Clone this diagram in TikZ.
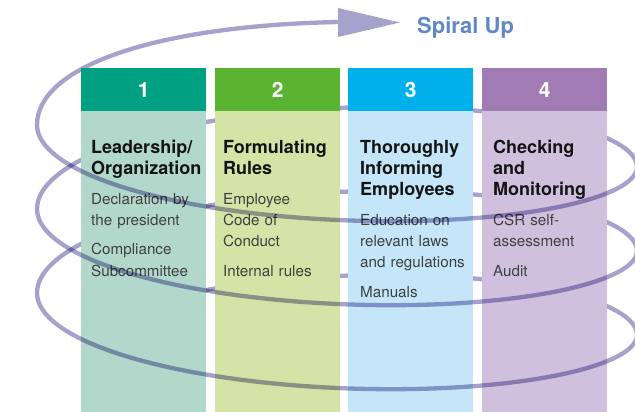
\documentclass[tikz,border=0pt]{standalone}
\usepackage{fontspec}
\setmainfont{TeX Gyre Heros}
\definecolor{spiralc}{RGB}{166,162,204}
\definecolor{spiraltext}{RGB}{96,136,200}
\definecolor{headA}{RGB}{0,161,130}
\definecolor{bodyA}{RGB}{178,216,203}
\definecolor{headB}{RGB}{91,180,49}
\definecolor{bodyB}{RGB}{211,228,166}
\definecolor{headC}{RGB}{0,176,234}
\definecolor{bodyC}{RGB}{196,230,248}
\definecolor{headD}{RGB}{160,123,180}
\definecolor{bodyD}{RGB}{209,191,222}
\begin{document}
\begin{tikzpicture}[x=1pt,y=-1pt,
  spiral/.style={draw=spiralc, line width=4.3pt},
  head/.style={minimum width=125pt, minimum height=43pt, inner sep=0pt, anchor=north west,
    text=white, font=\fontsize{21}{24}\selectfont\bfseries},
  colbody/.style={minimum width=125pt, minimum height=301pt, inner sep=0pt, anchor=north west},
  title/.style={anchor=base west, inner sep=0pt, text width=124pt, align=left,
    text=black!92, font=\fontsize{18}{21}\selectfont\bfseries},
  item/.style={anchor=base west, inner sep=0pt, text width=124pt, align=left,
    text=black!75, font=\fontsize{15.2}{21.3}\selectfont},
]
\useasboundingbox (0,0) rectangle (635,412);
\begin{scope}
\clip (0,0) rectangle (635,412);

% rear halves of the coil (hidden behind the columns)
\draw[spiral] plot[variable=\t, domain=-5.5832:-3.1416, samples=60]
  ({337-300*cos(\t r)}, {293-13.37*\t-80*sin(\t r)});
\draw[spiral] plot[variable=\t, domain=0:3.1416, samples=80]
  ({337-300*cos(\t r)}, {293-13.37*\t-80*sin(\t r)});
\draw[spiral] plot[variable=\t, domain=6.2832:9.4248, samples=80]
  ({337-300*cos(\t r)}, {293-13.37*\t-80*sin(\t r)});

% last turn rising to the arrow
\coordinate (topstart) at (37,125);
\coordinate (arrowbase) at (338,22);
\coordinate (arrowtip) at (400,22.5);
\draw[spiral] (topstart) .. controls (37,68) and (150,26) .. (arrowbase);
\fill[spiralc] (338,8) -- (arrowtip) -- (338,37) -- cycle;

% columns
\node[colbody, fill=bodyA] (b1) at (81,111) {};
\node[colbody, fill=bodyB] (b2) at (215,111) {};
\node[colbody, fill=bodyC] (b3) at (348,111) {};
\node[colbody, fill=bodyD] (b4) at (482,111) {};
\node[head, fill=headA] (h1) at (81,68) {1};
\node[head, fill=headB] (h2) at (215,68) {2};
\node[head, fill=headC] (h3) at (348,68) {3};
\node[head, fill=headD] (h4) at (482,68) {4};

% column texts
\node[title] (t1) at (91,153.5) {Leadership/\\Organization};
\node[item] (i1) at (91,204) {Declaration by\\the president\\[8.4pt]Compliance\\Subcommittee};
\node[title] (t2) at (223,153.5) {Formulating\\Rules};
\node[item] (i2) at (223,204) {Employee\\Code of\\Conduct\\[8.4pt]Internal rules};
\node[title] (t3) at (360,153.5) {Thoroughly\\Informing\\Employees};
\node[item] (i3) at (360,225) {Education on\\relevant laws\\and regulations\\[8.4pt]Manuals};
\node[title] (t4) at (493,153.5) {Checking\\and\\Monitoring};
\node[item] (i4) at (493,225) {CSR self-\\assessment\\[8.4pt]Audit};

% front halves of the coil, laid over the columns
\begin{scope}[blend mode=multiply]
\draw[spiral] plot[variable=\t, domain=-3.1416:0, samples=80]
  ({337-300*cos(\t r)}, {293-13.37*\t-74*sin(\t r)});
\draw[spiral] plot[variable=\t, domain=3.1416:6.2832, samples=80]
  ({337-300*cos(\t r)}, {293-13.37*\t-74*sin(\t r)});
\draw[spiral] plot[variable=\t, domain=9.4248:12.5664, samples=80]
  ({337-300*cos(\t r)}, {293-13.37*\t-74*sin(\t r)});
\end{scope}

\node[anchor=base west, inner sep=0pt, text=spiraltext,
  font=\fontsize{22}{26}\selectfont\bfseries] (label) at (417,34) {Spiral Up};
\end{scope}
\end{tikzpicture}
\end{document}
